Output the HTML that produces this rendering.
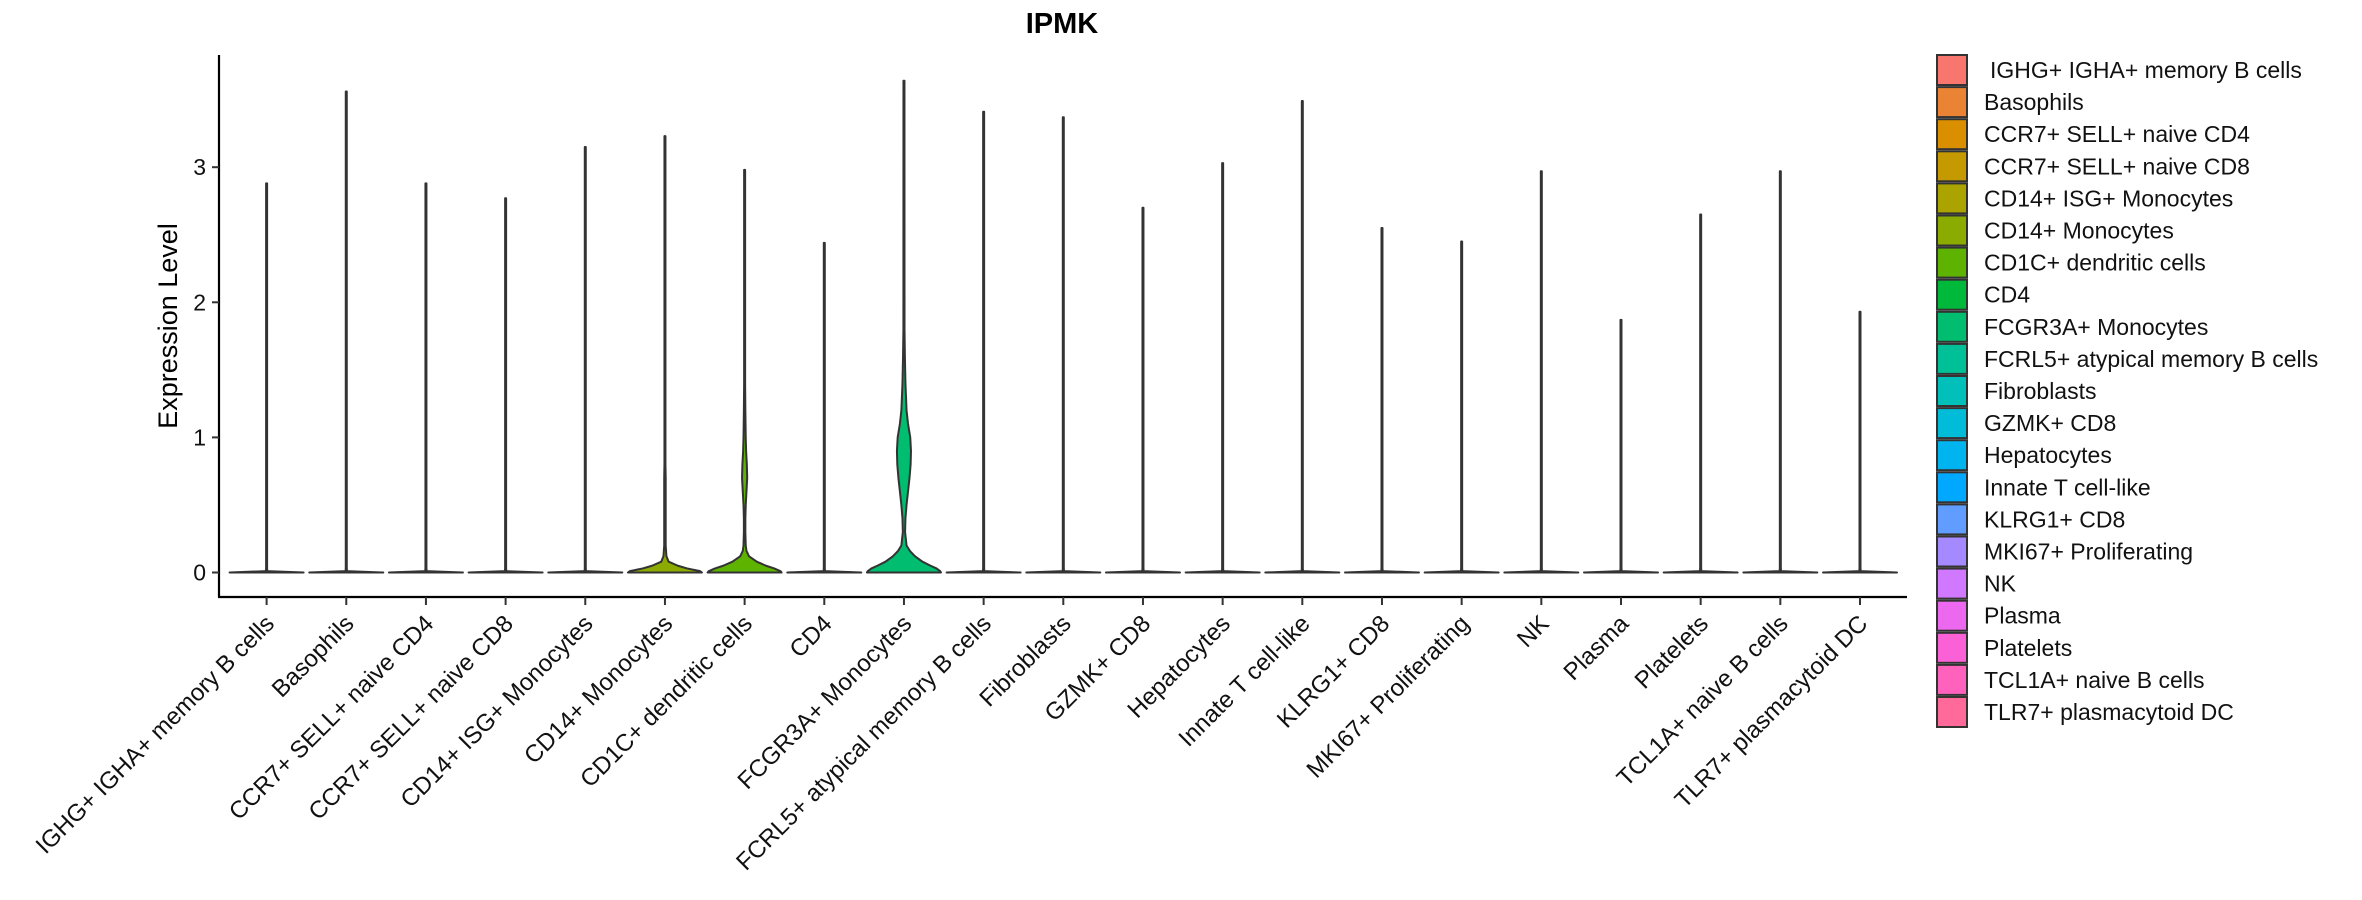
<!DOCTYPE html>
<html><head><meta charset="utf-8"><style>
body{margin:0;background:#fff;}
svg{display:block;font-family:"Liberation Sans","DejaVu Sans",sans-serif;}
</style></head><body>
<svg id="chart" width="2362" height="900" viewBox="0 0 2362 900" xmlns="http://www.w3.org/2000/svg">
<text x="1062" y="33" font-size="29" font-weight="bold" text-anchor="middle" fill="#000">IPMK</text>
<text transform="translate(177,326) rotate(-90)" font-size="27" text-anchor="middle" fill="#000">Expression Level</text>
<g id="plot"></g>
<g id="legend"></g>
</svg>
<script>
const categories = ["IGHG+ IGHA+ memory B cells","Basophils","CCR7+ SELL+ naive CD4","CCR7+ SELL+ naive CD8","CD14+ ISG+ Monocytes","CD14+ Monocytes","CD1C+ dendritic cells","CD4","FCGR3A+ Monocytes","FCRL5+ atypical memory B cells","Fibroblasts","GZMK+ CD8","Hepatocytes","Innate T cell-like","KLRG1+ CD8","MKI67+ Proliferating","NK","Plasma","Platelets","TCL1A+ naive B cells","TLR7+ plasmacytoid DC"];
const maxValues = [2.88,3.56,2.88,2.77,3.15,3.23,2.98,2.44,3.64,3.41,3.37,2.70,3.03,3.49,2.55,2.45,2.97,1.87,2.65,2.97,1.93];
const colors = ["#F8766D","#EB8335","#DA8F00","#C49A00","#AAA300","#8BAB00","#5EB300","#00B93A","#00BD6F","#00C097","#00C0B9","#00BCD8","#00B4EF","#00A8FF","#619CFF","#A58AFF","#D078FF","#EC69EF","#FB61D7","#FF62BC","#FF6A9A"];
const yTicks = [0,1,2,3];
const densityLevels = [0,0.01,0.03,0.05,0.08,0.12,0.16,0.2,0.3,0.4,0.5,0.6,0.7,0.8,0.9,1.0,1.1,1.2,1.4,1.6,1.8];
const flatDensity = [1,0.02,0.01,0,0,0,0,0,0,0,0,0,0,0,0,0,0,0,0,0,0];
const cd14MonoDensity = [1,0.95,0.6,0.35,0.1,0.04,0.03,0.02,0.02,0.02,0.02,0.02,0.02,0,0,0,0,0,0,0,0];
const cd1cDensity = [1,0.97,0.8,0.58,0.33,0.12,0.05,0.03,0.02,0.02,0.03,0.05,0.07,0.06,0.04,0.03,0.025,0.02,0,0,0];
const fcgr3aDensity = [1,0.98,0.88,0.72,0.5,0.3,0.16,0.07,0.03,0.04,0.07,0.11,0.15,0.18,0.19,0.17,0.11,0.07,0.04,0.025,0.015];
const densities = categories.map((c,i)=> i===5?cd14MonoDensity : i===6?cd1cDensity : i===8?fcgr3aDensity : flatDensity);

const NS="http://www.w3.org/2000/svg";
const plot=document.getElementById('plot');
const X0=266.6, DX=79.67, HALF=37;
const yScale=v=>572.5-v*135.1;
const xScale=i=>X0+i*DX;
function mk(t,a,p){const e=document.createElementNS(NS,t);for(const k in a)e.setAttribute(k,a[k]);(p||plot).appendChild(e);return e;}

const yAxis=mk('line',{x1:219,y1:55,x2:219,y2:597,stroke:'#000','stroke-width':2.2});


const xAxis=mk('line',{x1:218,y1:597,x2:1907,y2:597,stroke:'#000','stroke-width':2.2});


yTicks.forEach(v=>{
  const t=mk('line',{x1:212,y1:yScale(v),x2:219,y2:yScale(v),stroke:'#333','stroke-width':2});
  
  
  const l=mk('text',{x:206,y:yScale(v)+8,'font-size':23,'text-anchor':'end',fill:'#111'});
  l.textContent=v;
  
  
});
categories.forEach((c,i)=>{
  const cx=xScale(i);
  const t=mk('line',{x1:cx,y1:597,x2:cx,y2:605,stroke:'#333','stroke-width':2});
  
  
  const l=mk('text',{'font-size':24,'text-anchor':'end',fill:'#111',transform:`translate(${cx+9},625) rotate(-45)`});
  l.textContent=c;
  
  
  const d=densities[i];
  let right=[],left=[];
  for(let k=0;k<densityLevels.length;k++){
    if(densityLevels[k]>maxValues[i])break;
    const w=Math.max(d[k]*HALF,0.5);
    right.push([cx+w,yScale(densityLevels[k])]);
    left.push([cx-w,yScale(densityLevels[k])]);
  }
  right.push([cx+0.5,yScale(maxValues[i])]);left.push([cx-0.5,yScale(maxValues[i])]);
  const pts=right.concat(left.reverse());
  const p=mk('path',{d:'M'+pts.map(q=>q[0].toFixed(2)+','+q[1].toFixed(2)).join(' L')+' Z',fill:colors[i],stroke:'#333','stroke-width':2,'stroke-linejoin':'round'});
  
  
});

const lg=document.getElementById('legend');
categories.forEach((c,i)=>{
  const y=55+i*32.1;
  const r=mk('rect',{x:1937,y:y,width:30,height:30,fill:colors[i],stroke:'#333','stroke-width':2},lg);
  
  
  const t=mk('text',{x:(i===0?1990:1984),y:y+23,'font-size':23,fill:'#111'},lg);
  t.textContent=c;
  
  
});
</script>
</body></html>
